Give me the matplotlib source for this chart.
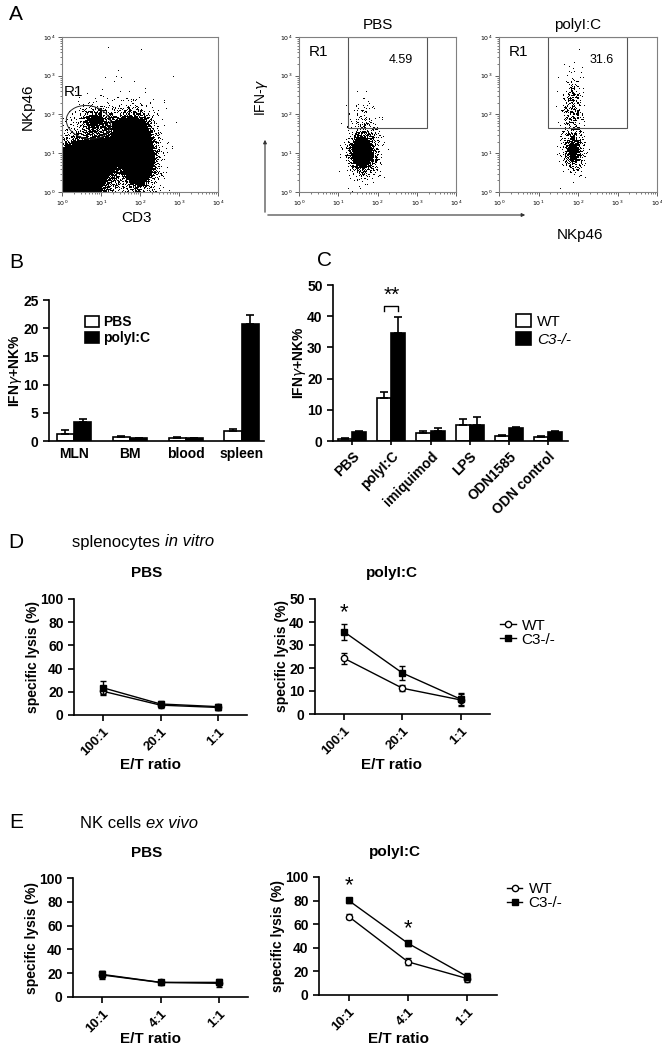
import numpy as np
import matplotlib.pyplot as plt
from matplotlib.patches import Ellipse, Rectangle, FancyArrowPatch
from matplotlib.lines import Line2D

plt.rcParams['font.family'] = ['Liberation Sans', 'DejaVu Sans']
NARROW = ['Liberation Sans Narrow', 'Liberation Sans', 'DejaVu Sans']

W, H = 662, 1048

# ---- A: flow populations (log10 units: centre x, centre y, spread x, spread y, weight)
cd3_x = [0.40, 1.00, 1.95, 1.70, 0.85, 1.40]
cd3_y = [0.45, 0.90, 0.90, 1.60, 1.85, 1.70]
cd3_sx = [0.42, 0.35, 0.25, 0.30, 0.22, 0.55]
cd3_sy = [0.50, 0.35, 0.45, 0.27, 0.17, 0.65]
cd3_w = [3.0, 1.5, 3.0, 1.6, 1.0, 0.05]

pbs_x = [1.62, 1.65]
pbs_y = [1.00, 1.70]
pbs_sx = [0.20, 0.20]
pbs_sy = [0.30, 0.35]
pbs_w = [2.0, 0.2]

pic_x = [1.88, 1.86, 1.90]
pic_y = [1.05, 2.10, 2.90]
pic_sx = [0.14, 0.14, 0.12]
pic_sy = [0.27, 0.45, 0.30]
pic_w = [1.2, 0.5, 0.06]

gate_pct = ['4.59', '31.6']

# ---- B
b_groups = ['MLN', 'BM', 'blood', 'spleen']
b_pbs = [1.3, 0.7, 0.6, 1.8]
b_pbs_err = [0.6, 0.15, 0.1, 0.4]
b_pic = [3.3, 0.5, 0.5, 20.7]
b_pic_err = [0.6, 0.1, 0.1, 1.6]

# ---- C
c_groups = ['PBS', 'polyI:C', 'imiquimod', 'LPS', 'ODN1585', 'ODN control']
c_wt = [0.8, 13.7, 2.7, 5.2, 1.6, 1.4]
c_wt_err = [0.2, 2.1, 0.4, 2.0, 0.3, 0.3]
c_c3 = [3.0, 34.7, 3.3, 5.0, 4.1, 2.9]
c_c3_err = [0.3, 5.2, 0.9, 2.6, 0.3, 0.3]

# ---- D
ratios_d = ['100:1', '20:1', '1:1']
d_pbs_wt = [20.5, 8.5, 6.5]
d_pbs_wt_err = [3.0, 2.5, 2.5]
d_pbs_c3 = [23.5, 9.5, 7.2]
d_pbs_c3_err = [5.5, 3.0, 2.5]
d_pic_wt = [24.2, 11.2, 6.1]
d_pic_wt_err = [2.3, 1.2, 2.6]
d_pic_c3 = [35.7, 17.8, 6.4]
d_pic_c3_err = [3.5, 2.9, 2.6]

# ---- E
ratios_e = ['10:1', '4:1', '1:1']
e_pbs_wt = [18.5, 12.2, 11.5]
e_pbs_wt_err = [3.5, 2.0, 3.0]
e_pbs_c3 = [19.0, 12.3, 12.3]
e_pbs_c3_err = [3.0, 1.5, 2.5]
e_pic_wt = [66.5, 28.1, 13.9]
e_pic_wt_err = [2.5, 3.0, 3.0]
e_pic_c3 = [80.1, 43.8, 15.6]
e_pic_c3_err = [2.5, 2.0, 3.0]


def box(l, t, r, b):
    return [l / W, 1 - b / H, (r - l) / W, (b - t) / H]


def ftext(x, y, s, **kw):
    kw.setdefault('ha', 'center')
    kw.setdefault('va', 'center')
    return fig.text(x / W, 1 - y / H, s, **kw)


def header(x, y, plain, ital):
    # plain words followed by italic words
    t = ftext(x, y, plain + ' ', fontsize=12, ha='left')
    bb = t.get_window_extent(renderer=fig.canvas.get_renderer())
    fig.text(bb.x1 / fig.bbox.width, 1 - y / H, ital, fontsize=12, style='italic',
             ha='left', va='center')


def flow_mask(cx, cy, sx, sy, w, n=155):
    g = (np.arange(n) + 0.5) / n * 4
    X, Y = np.meshgrid(g, g)
    dens = np.zeros_like(X)
    for a, b, c, d, e in zip(cx, cy, sx, sy, w):
        dens += e * np.exp(-0.5 * ((X - a) / c) ** 2 - 0.5 * ((Y - b) / d) ** 2)
    p = np.clip(dens, 0, 1)
    i, j = np.indices(p.shape)
    # deterministic dither threshold (shader style hash)
    thr = np.mod(np.sin(i * 12.9898 + j * 78.233) * 43758.5453, 1.0)
    return (p > thr).astype(float)


def flow_axes(rect, cx, cy, sx, sy, w):
    ax = fig.add_axes(box(*rect))
    ax.imshow(flow_mask(cx, cy, sx, sy, w), cmap='Greys', vmin=0, vmax=1,
              origin='lower', extent=(0, 4, 0, 4), interpolation='nearest', aspect='auto')
    ax.set_xlim(0, 4)
    ax.set_ylim(0, 4)
    for s in ax.spines.values():
        s.set_color('#808080')
        s.set_linewidth(0.8)
    ticks = [0, 1, 2, 3, 4]
    minor = [k + np.log10(m) for k in range(4) for m in range(2, 10)]
    ax.set_xticks(ticks)
    ax.set_yticks(ticks)
    ax.set_xticks(minor, minor=True)
    ax.set_yticks(minor, minor=True)
    lab = ['$10^{%d}$' % k for k in ticks]
    ax.set_xticklabels(lab, fontsize=4.5)
    ax.set_yticklabels(lab, fontsize=4.5)
    ax.tick_params(which='major', length=3, width=0.6, color='#444444', pad=1.5)
    ax.tick_params(which='minor', length=1.5, width=0.5, color='#444444')
    return ax


def style_axes(ax):
    for s in ['top', 'right']:
        ax.spines[s].set_visible(False)
    for s in ['left', 'bottom']:
        ax.spines[s].set_linewidth(1.2)
    ax.tick_params(width=1.2, length=4, direction='out')
    for t in ax.get_yticklabels() + ax.get_xticklabels():
        t.set_family(NARROW)
        t.set_fontweight('bold')


fig = plt.figure(figsize=(W / 100, H / 100), dpi=100)

# ================= A =================
ftext(16, 14, 'A', fontsize=15)
ax1 = flow_axes((62, 37, 218, 192), cd3_x, cd3_y, cd3_sx, cd3_sy, cd3_w)
ax1.add_patch(Ellipse((0.68, 1.8), 1.15, 0.85, angle=-12, fill=False, lw=0.7, ec='#222222'))
ax1.text(0.05, 2.58, 'R1', fontsize=11, va='center')
ftext(137, 218, 'CD3', fontsize=11)
ftext(28, 107, 'NKp46', fontsize=11, rotation=90)

ax2 = flow_axes((299, 37, 456, 192), pbs_x, pbs_y, pbs_sx, pbs_sy, pbs_w)
ax3 = flow_axes((499, 37, 657, 192), pic_x, pic_y, pic_sx, pic_sy, pic_w)
for ax, pct, ttl in [(ax2, gate_pct[0], 'PBS'), (ax3, gate_pct[1], 'polyI:C')]:
    ax.add_patch(Rectangle((1.25, 1.65), 2.0, 2.35, fill=False, lw=0.8, ec='#555555'))
    ax.text(0.25, 3.6, 'R1', fontsize=11, va='center')
    ax.text(2.6, 3.4, pct, fontsize=9, ha='center', va='center')
    ax.set_title(ttl, fontsize=11, pad=6)

fig.add_artist(FancyArrowPatch((265 / W, 1 - 215 / H), (265 / W, 1 - 137 / H),
                               transform=fig.transFigure, arrowstyle='-|>',
                               mutation_scale=5, lw=0.8, color='#333333'))
fig.add_artist(FancyArrowPatch((265 / W, 1 - 215 / H), (528 / W, 1 - 215 / H),
                               transform=fig.transFigure, arrowstyle='-|>',
                               mutation_scale=5, lw=0.8, color='#333333'))
ftext(262, 97, 'IFN-$\\gamma$', fontsize=10, rotation=90)
ftext(580, 235, 'NKp46', fontsize=11)

# ================= B =================
ftext(16, 262, 'B', fontsize=15)
axb = fig.add_axes(box(49, 300, 264, 441))
xb = np.arange(len(b_groups))
bw = 0.31
ekw = dict(lw=1.2, capthick=1.2)
axb.bar(xb - bw / 2, b_pbs, bw, color='white', edgecolor='black', lw=1.2,
        yerr=[np.zeros(4), b_pbs_err], capsize=3, error_kw=ekw, label='PBS')
axb.bar(xb + bw / 2, b_pic, bw, color='black', edgecolor='black', lw=1.2,
        yerr=[np.zeros(4), b_pic_err], capsize=3, error_kw=ekw, label='polyI:C')
axb.set_xlim(-0.45, 3.4)
axb.set_ylim(0, 25)
axb.set_yticks([0, 5, 10, 15, 20, 25])
axb.set_xticks(xb)
axb.set_xticklabels(b_groups, fontsize=10)
axb.set_yticklabels(['0', '5', '10', '15', '20', '25'], fontsize=10)
style_axes(axb)
axb.tick_params(axis='x', length=0, pad=4)
axb.set_ylabel('IFN$\\gamma$+NK%', fontsize=10, fontweight='bold', family=NARROW, labelpad=-1)
axb.legend(loc='upper left', bbox_to_anchor=(0.11, 0.98), frameon=False,
           handlelength=1.0, handleheight=0.9, handletextpad=0.3, labelspacing=0.15,
           prop=dict(family=NARROW, weight='bold', size=10))

# ================= C =================
ftext(325, 260, 'C', fontsize=15)
axc = fig.add_axes(box(333, 285, 568, 441))
xc = np.arange(len(c_groups))
cw = 0.36
axc.bar(xc - cw / 2, c_wt, cw, color='white', edgecolor='black', lw=1.2,
        yerr=[np.zeros(6), c_wt_err], capsize=3, error_kw=ekw, label='WT')
axc.bar(xc + cw / 2, c_c3, cw, color='black', edgecolor='black', lw=1.2,
        yerr=[np.zeros(6), c_c3_err], capsize=3, error_kw=ekw, label='C3-/-')
axc.set_xlim(-0.49, 5.51)
axc.set_ylim(0, 50)
axc.set_yticks([0, 10, 20, 30, 40, 50])
axc.set_yticklabels(['0', '10', '20', '30', '40', '50'], fontsize=10)
axc.set_xticks(xc)
axc.set_xticklabels(c_groups, fontsize=10, rotation=45, ha='right', rotation_mode='anchor')
style_axes(axc)
axc.tick_params(axis='x', length=3, pad=3)
axc.set_ylabel('IFN$\\gamma$+NK%', fontsize=10, fontweight='bold', family=NARROW, labelpad=-1)
axc.plot([1 - cw / 2, 1 - cw / 2, 1 + cw / 2, 1 + cw / 2], [41.8, 43.2, 43.2, 41.8], color='black', lw=1)
axc.text(1, 43.6, '**', fontsize=15, ha='center', va='bottom')
legc = axc.legend(loc='upper left', bbox_to_anchor=(0.72, 0.9), frameon=False,
                  handlelength=1.0, handleheight=0.9, handletextpad=0.4, labelspacing=0.2,
                  prop=dict(size=11))
legc.get_texts()[1].set_style('italic')

# line legend handles (marker with a short line, no error bar)
lys_handles = [Line2D([], [], color='black', lw=1, marker='o', ms=4.5, mfc='white', mec='black'),
               Line2D([], [], color='black', lw=1, marker='s', ms=4.5, mfc='black', mec='black')]


# ================= D / E =================
def lysis_axes(rect, labels, wt, wt_err, c3, c3_err, ymax, title, title_xy, etxy):
    ax = fig.add_axes(box(*rect))
    x = np.arange(3)
    ax.errorbar(x, wt, yerr=wt_err, color='black', lw=1, marker='o', ms=4.5, mfc='white',
                mec='black', mew=1, capsize=2.5, elinewidth=1, zorder=3)
    ax.errorbar(x, c3, yerr=c3_err, color='black', lw=1, marker='s', ms=4.5, mfc='black',
                mec='black', capsize=2.5, elinewidth=1, zorder=4)
    ax.set_xlim(-0.5, 2.5)
    ax.set_ylim(0, ymax)
    step = ymax // 5
    yt = list(range(0, ymax + 1, step))
    ax.set_yticks(yt)
    ax.set_yticklabels([str(v) for v in yt], fontsize=10)
    ax.set_xticks(x)
    ax.set_xticklabels(labels, fontsize=9.5, rotation=45, ha='right', rotation_mode='anchor')
    style_axes(ax)
    ax.tick_params(axis='x', pad=4)
    ax.set_ylabel('specific lysis (%)', fontsize=10, fontweight='bold', family=NARROW, labelpad=0)
    ftext(title_xy[0], title_xy[1], title, fontsize=11, fontweight='bold', family=NARROW)
    ftext(etxy[0], etxy[1], 'E/T ratio', fontsize=11, fontweight='bold', family=NARROW)
    return ax


def lysis_legend(ax, ytop):
    ax.legend(lys_handles, ['WT', 'C3-/-'], loc='upper left', bbox_to_anchor=(0.98, ytop),
              frameon=False, handlelength=1.0, handletextpad=0.4, labelspacing=0.0,
              prop=dict(size=11))


ftext(16, 542, 'D', fontsize=15)
header(72, 542, 'splenocytes', 'in vitro')
axd1 = lysis_axes((74, 599, 247, 715), ratios_d, d_pbs_wt, d_pbs_wt_err, d_pbs_c3, d_pbs_c3_err,
                  100, 'PBS', (147, 573), (150, 765))
axd2 = lysis_axes((315, 599, 490, 714), ratios_d, d_pic_wt, d_pic_wt_err, d_pic_c3, d_pic_c3_err,
                  50, 'polyI:C', (392, 573), (392, 765))
axd2.text(0, 39.5, '*', fontsize=16, ha='center', va='bottom')
lysis_legend(axd2, 0.95)

ftext(16, 823, 'E', fontsize=15)
header(80, 823, 'NK cells', 'ex vivo')
axe1 = lysis_axes((73, 878, 248, 997), ratios_e, e_pbs_wt, e_pbs_wt_err, e_pbs_c3, e_pbs_c3_err,
                  100, 'PBS', (147, 853), (150, 1039))
axe2 = lysis_axes((319, 877, 497, 995), ratios_e, e_pic_wt, e_pic_wt_err, e_pic_c3, e_pic_c3_err,
                  100, 'polyI:C', (395, 852), (398, 1039))
axe2.text(0, 83.5, '*', fontsize=16, ha='center', va='bottom')
axe2.text(1, 47, '*', fontsize=16, ha='center', va='bottom')
lysis_legend(axe2, 1.07)

fig.savefig('out.png', dpi=100)
